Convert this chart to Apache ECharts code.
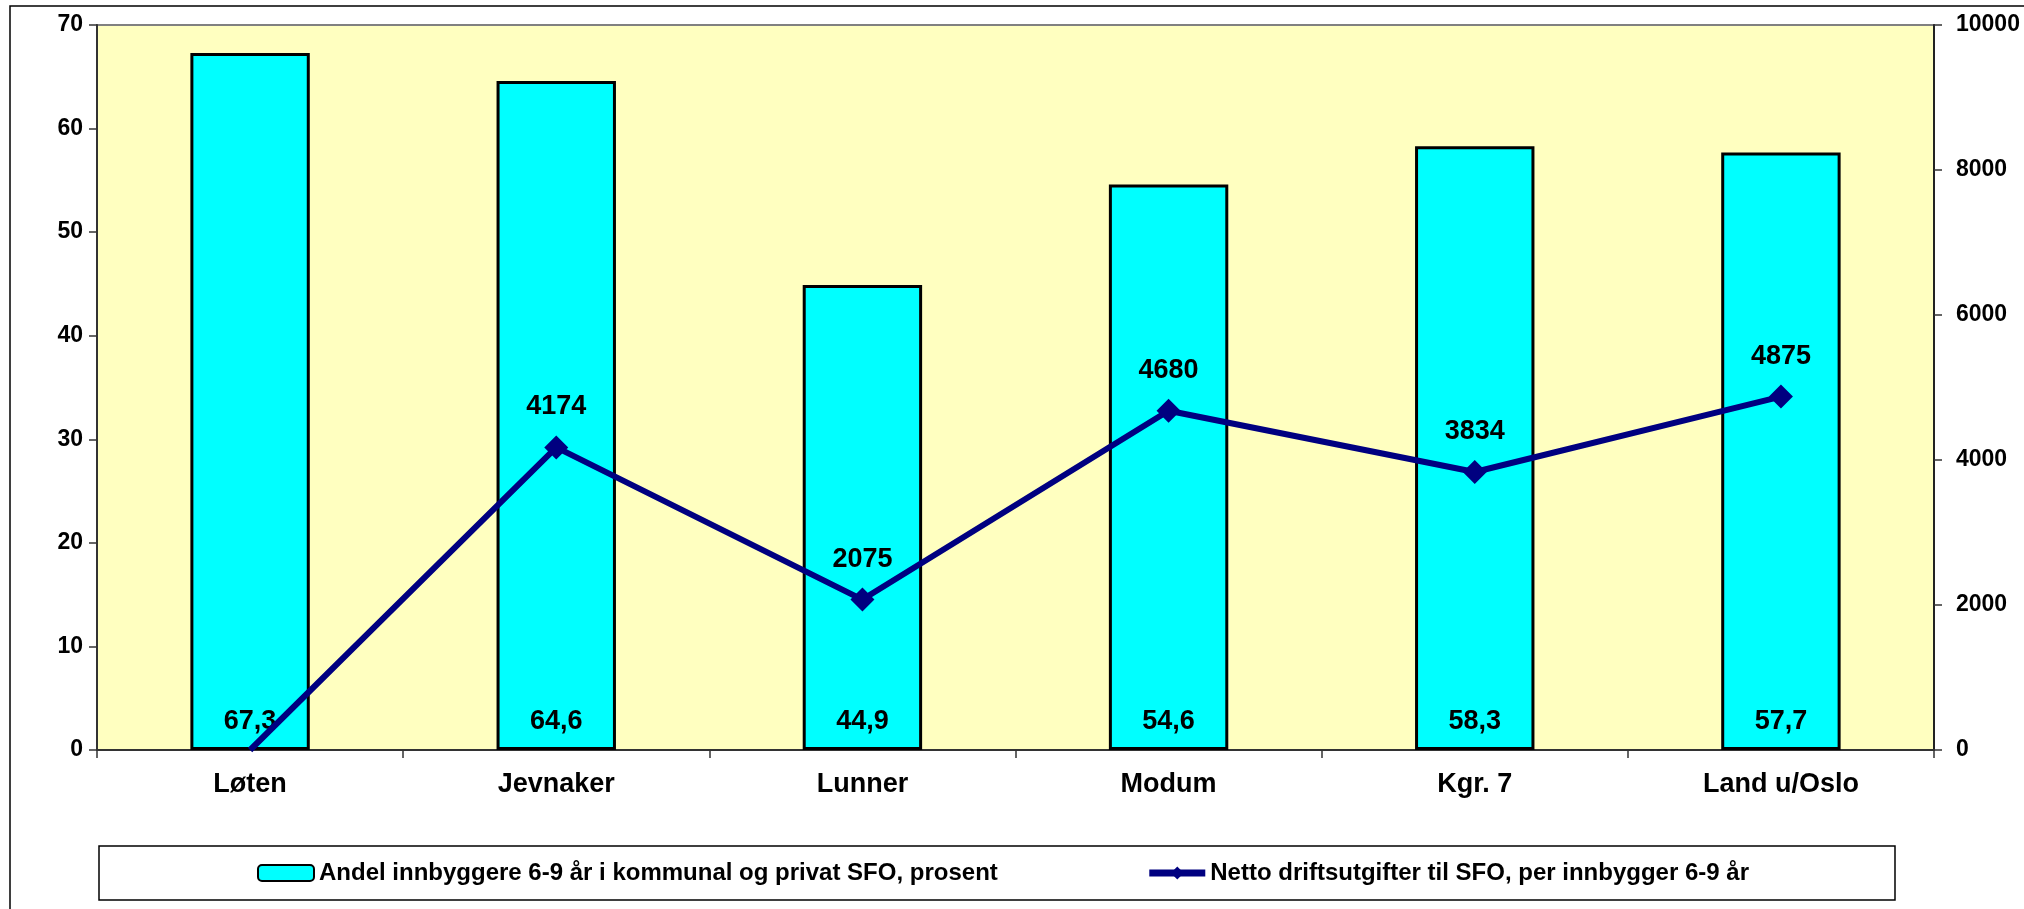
<!DOCTYPE html>
<html>
<head>
<meta charset="utf-8">
<script src="https://cdn.jsdelivr.net/npm/echarts@6/dist/echarts.min.js"></script>
<style>
html,body{margin:0;padding:0;background:#fff;}
#chart{width:2024px;height:909px;}
</style>
</head>
<body>
<div id="chart"></div>
<script>
const categories = ['Løten', 'Jevnaker', 'Lunner', 'Modum', 'Kgr. 7', 'Land u/Oslo'];
const barName = 'Andel innbyggere 6-9 år i kommunal og privat SFO, prosent';
const lineName = 'Netto driftsutgifter til SFO, per innbygger 6-9 år';
const barValues = [67.3, 64.6, 44.9, 54.6, 58.3, 57.7];
const lineValues = [0, 4174, 2075, 4680, 3834, 4875];

const FONT = '"Liberation Sans", Arial, sans-serif';
const chart = echarts.init(document.getElementById('chart'), null, {renderer: 'canvas'});
chart.setOption({
  backgroundColor: '#ffffff',
  animation: false,
  textStyle: {fontFamily: FONT, fontWeight: 'bold', color: '#000'},
  graphic: [{
    type: 'rect', z: -10, silent: true,
    shape: {x: 10, y: 6, width: 2040, height: 940},
    style: {fill: 'none', stroke: '#000', lineWidth: 1.5}
  }],
  grid: {
    left: 97, right: 90, top: 25, bottom: 159,
    show: true, backgroundColor: '#FFFFC0', borderColor: '#808080', borderWidth: 2
  },
  legend: {
    left: 99, top: 846,
    padding: [15, 146, 15, 158],
    borderColor: '#000', borderWidth: 1.5,
    itemGap: 148, itemWidth: 56, itemHeight: 16,
    textStyle: {fontFamily: FONT, fontWeight: 'bold', fontSize: 24, color: '#000'},
    data: [
      {name: barName},
      {name: lineName, lineStyle: {width: 7, color: '#000080'}, itemStyle: {color: '#000080'}}
    ]
  },
  xAxis: {
    type: 'category', data: categories,
    axisLine: {lineStyle: {color: '#333', width: 2}},
    axisTick: {show: true, alignWithLabel: false, length: 8, lineStyle: {color: '#333', width: 1.5}},
    axisLabel: {fontFamily: FONT, fontWeight: 'bold', fontSize: 27, color: '#000', margin: 21}
  },
  yAxis: [{
    type: 'value', min: 0, max: 70, interval: 10, position: 'left',
    axisLine: {show: true, lineStyle: {color: '#333', width: 2}},
    axisTick: {show: true, length: 8, lineStyle: {color: '#333', width: 1.5}},
    splitLine: {show: false},
    axisLabel: {fontFamily: FONT, fontWeight: 'bold', fontSize: 23, color: '#000', margin: 14}
  }, {
    type: 'value', min: 0, max: 10000, interval: 2000, position: 'right',
    axisLine: {show: true, lineStyle: {color: '#222', width: 2}},
    axisTick: {show: true, length: 8, lineStyle: {color: '#333', width: 1.5}},
    splitLine: {show: false},
    axisLabel: {fontFamily: FONT, fontWeight: 'bold', fontSize: 23, color: '#000', margin: 22,
      formatter: v => String(v)}
  }],
  series: [{
    name: barName, type: 'bar', yAxisIndex: 0, data: barValues,
    barWidth: '39%',
    itemStyle: {color: '#00FFFF', borderColor: '#000', borderWidth: 3},
    label: {
      show: true, position: 'insideBottom', distance: 15,
      fontFamily: FONT, fontWeight: 'bold', fontSize: 27, color: '#000',
      formatter: p => String(p.value).replace('.', ',')
    },
    z: 2
  }, {
    name: lineName, type: 'line', yAxisIndex: 1, data: lineValues,
    symbol: 'diamond',
    symbolSize: v => v === 0 ? 0 : 24,
    lineStyle: {color: '#000080', width: 6},
    itemStyle: {color: '#000080'},
    label: {
      show: true, position: 'top', distance: 15,
      fontFamily: FONT, fontWeight: 'bold', fontSize: 27, color: '#000',
      formatter: p => p.value === 0 ? '' : String(p.value)
    },
    z: 3
  }]
});
</script>
</body>
</html>
